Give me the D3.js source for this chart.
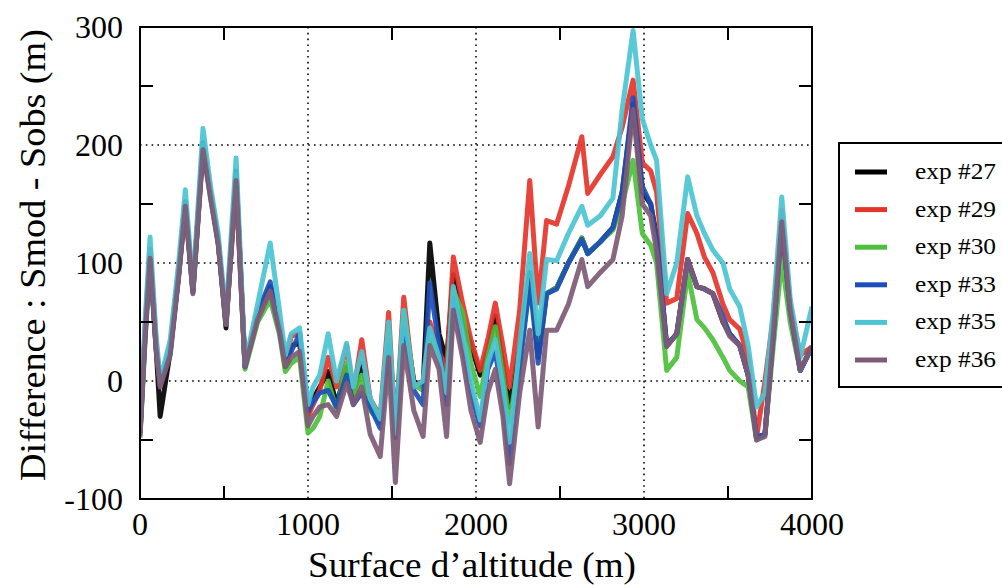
<!DOCTYPE html>
<html><head><meta charset="utf-8">
<script src="https://cdn.jsdelivr.net/npm/d3@7"></script>
<style>body{margin:0;background:#fff;}svg{display:block;}</style>
</head><body><svg id="c" width="1002" height="585"></svg>
<script>
const altitudes = [0,30,60,95,120,180,230,270,315,375,420,465,512,572,625,700,775,830,865,900,950,1000,1030,1070,1120,1170,1230,1270,1320,1370,1430,1480,1520,1570,1630,1685,1725,1780,1825,1865,1920,1970,2025,2070,2115,2160,2200,2260,2320,2370,2420,2480,2550,2630,2665,2740,2815,2870,2935,2990,3040,3075,3135,3195,3260,3315,3360,3410,3470,3510,3570,3620,3670,3720,3770,3820,3870,3930,4000];
const exp27 = [-45,40,108,30,-30,25,90,152,76,202,160,120,45,178,12,55,80,45,12,30,32,-28,-15,-5,8,-20,12,-12,15,-18,-35,42,-42,55,0,-5,117,40,17,90,52,30,5,25,55,15,-22,30,92,20,74,79,100,121,108,118,130,160,235,160,150,122,30,40,103,80,78,74,50,40,30,5,-48,-45,40,135,60,9,29];
const exp29 = [-42,45,112,35,-3,30,95,145,78,198,158,118,50,165,13,55,77,48,15,38,40,-30,-20,-8,20,-5,30,-10,35,-15,-30,58,-45,71,-5,0,50,25,10,105,66,35,9,35,66,30,-5,60,170,66,136,133,165,207,159,175,190,215,255,185,178,160,66,70,142,125,105,92,65,52,44,20,-48,0,55,145,65,22,29];
const exp30 = [-48,35,105,28,0,25,90,148,75,198,155,118,48,172,10,50,69,40,8,15,20,-44,-40,-30,0,-25,15,-15,5,-25,-35,45,-48,60,-3,-8,40,20,-5,77,58,15,-13,20,46,5,-35,20,80,35,74,79,100,121,108,118,128,150,187,125,115,100,9,20,92,52,45,35,20,9,0,-5,-50,-45,30,103,50,9,29];
const exp33 = [-44,38,106,30,-2,26,90,150,76,200,158,118,50,175,12,58,84,45,20,25,40,-25,-18,-10,-8,-22,5,-20,-10,-22,-40,30,-48,45,-8,-20,83,30,-20,70,30,-10,-38,10,25,-15,-70,10,85,15,74,78,100,120,108,118,130,160,240,165,150,120,30,40,103,80,78,74,55,40,30,5,-48,-45,40,135,60,9,29];
const exp35 = [-40,50,122,40,0,35,100,162,80,214,165,125,55,189,14,65,117,60,22,40,45,-20,-5,5,40,0,32,-5,25,-15,-32,50,-45,60,-5,0,45,20,-10,80,40,0,-33,15,35,-5,-52,30,108,40,103,102,125,148,132,140,155,230,297,222,200,187,74,100,173,140,125,111,100,78,63,30,-22,-10,60,156,70,20,63];
const exp36 = [-47,35,104,28,-5,22,88,148,74,196,155,116,48,170,12,52,76,42,12,20,25,-38,-30,-22,-20,-30,-2,-20,-5,-45,-64,20,-86,30,-25,-47,30,10,-47,60,20,-25,-52,-10,10,-30,-87,-10,43,-39,43,43,65,103,80,92,103,140,230,150,140,110,29,40,103,80,78,74,50,38,30,5,-50,-47,40,135,60,9,29];
const seriesNames = ["exp #27","exp #29","exp #30","exp #33","exp #35","exp #36"];
const seriesColors = ["#000000","#e5352b","#4cbf3c","#1d4fb8","#4cc4d2","#7e5a76"];
const xTicks = [0,1000,2000,3000,4000];
const yTicks = [-100,0,100,200,300];
const xMinor = [500,1500,2500,3500];
const yMinor = [-50,50,150,250];

const allSeries = [exp27,exp29,exp30,exp33,exp35,exp36];
const svg = d3.select("#c");
const L=140,R=812,T=27,B=499;
const x = d3.scaleLinear().domain([0,4000]).range([L,R]);
const y = d3.scaleLinear().domain([-100,300]).range([B,T]);
const font = "'Liberation Serif','Times New Roman',serif";

svg.append("defs").append("clipPath").attr("id","cp").append("rect")
  .attr("x",L).attr("y",T).attr("width",R-L).attr("height",B-T);

// grid
const g = svg.append("g");
[1000,2000,3000].forEach(v=>{
  g.append("line").attr("x1",x(v)).attr("x2",x(v)).attr("y1",T).attr("y2",B)
   .attr("stroke","#000").attr("stroke-width",1.6).attr("stroke-dasharray","1.6,4.2");
});
[0,100,200].forEach(v=>{
  g.append("line").attr("x1",L).attr("x2",R).attr("y1",y(v)).attr("y2",y(v))
   .attr("stroke","#000").attr("stroke-width",1.6).attr("stroke-dasharray","1.6,4.2");
});

// lines
const line = d3.line().x((d,i)=>x(altitudes[i])).y(d=>y(d)).curve(d3.curveLinear);
const lg = svg.append("g").attr("clip-path","url(#cp)");
allSeries.forEach((s,k)=>{
  lg.append("path").attr("d",line(s)).attr("fill","none")
    .attr("stroke",seriesColors[k]).attr("stroke-width",5)
    .attr("stroke-linejoin","round").attr("opacity",0.92);
});

// minor ticks
xMinor.forEach(v=>{
  svg.append("line").attr("x1",x(v)).attr("x2",x(v)).attr("y1",B).attr("y2",B-13).attr("stroke","#000").attr("stroke-width",2);
  svg.append("line").attr("x1",x(v)).attr("x2",x(v)).attr("y1",T).attr("y2",T+13).attr("stroke","#000").attr("stroke-width",2);
});
yMinor.forEach(v=>{
  svg.append("line").attr("x1",L).attr("x2",L+13).attr("y1",y(v)).attr("y2",y(v)).attr("stroke","#000").attr("stroke-width",2);
  svg.append("line").attr("x1",R).attr("x2",R-13).attr("y1",y(v)).attr("y2",y(v)).attr("stroke","#000").attr("stroke-width",2);
});

// frame
svg.append("rect").attr("x",L).attr("y",T).attr("width",R-L).attr("height",B-T)
  .attr("fill","none").attr("stroke","#000").attr("stroke-width",2);

// tick labels
xTicks.forEach(v=>{
  svg.append("text").attr("x",x(v)).attr("y",535).attr("text-anchor","middle")
    .attr("font-family",font).attr("font-size",32).text(v);
});
yTicks.forEach(v=>{
  svg.append("text").attr("x",123).attr("y",y(v)+11).attr("text-anchor","end")
    .attr("font-family",font).attr("font-size",32).text(v);
});

// axis titles
svg.append("text").attr("x",472).attr("y",577).attr("text-anchor","middle")
  .attr("font-family",font).attr("font-size",35)
  .attr("textLength",328).attr("lengthAdjust","spacingAndGlyphs")
  .text("Surface d’altitude (m)");
svg.append("text").attr("transform","translate(45,255) rotate(-90)").attr("text-anchor","middle")
  .attr("font-family",font).attr("font-size",35)
  .attr("textLength",452).attr("lengthAdjust","spacingAndGlyphs")
  .text("Difference : Smod - Sobs (m)");

// legend
svg.append("rect").attr("x",839).attr("y",143).attr("width",200).attr("height",244)
  .attr("fill","#fff").attr("stroke","#000").attr("stroke-width",2);
seriesNames.forEach((n,k)=>{
  const yy = 172 + k*37.6;
  svg.append("line").attr("x1",855).attr("x2",887).attr("y1",yy).attr("y2",yy)
    .attr("stroke",seriesColors[k]).attr("stroke-width",5);
  svg.append("text").attr("x",915).attr("y",yy+7).attr("font-family",font)
    .attr("font-size",23).attr("textLength",81).attr("lengthAdjust","spacingAndGlyphs").text(n);
});
</script></body></html>
